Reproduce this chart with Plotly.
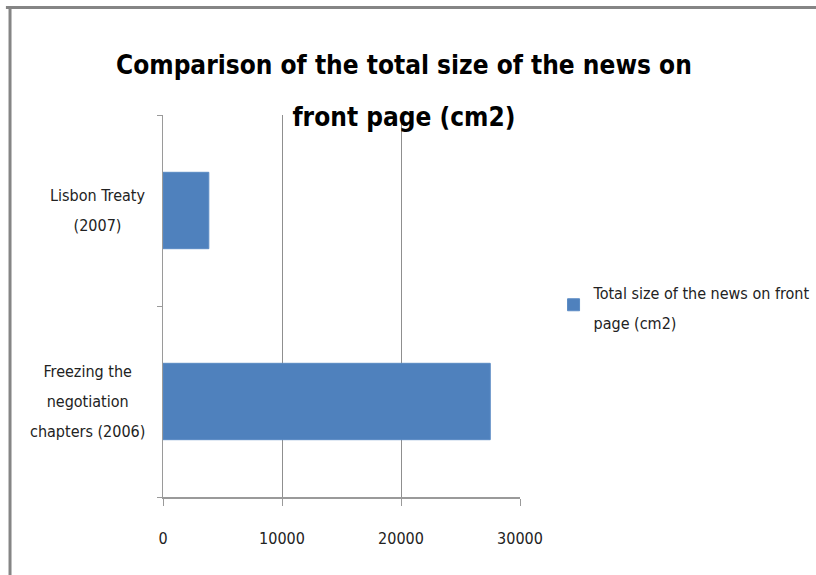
import plotly.graph_objects as go

# ---- data ----
categories = ["Freezing the negotiation chapters (2006)", "Lisbon Treaty (2007)"]
category_lines = [["Freezing the", "negotiation", "chapters (2006)"], ["Lisbon Treaty", "(2007)"]]
values = [27500, 3850]
series_lines = ["Total size of the news on front", "page (cm2)"]
title_lines = ["Comparison of the total size of the news on", "front page (cm2)"]
x_ticks = [0, 10000, 20000, 30000]

FONT = "DejaVu Sans Condensed"
BLUE = "#4F81BD"
GRID = "#8F8F8F"
TXT = "#222222"


def spaced(lines, px):
    # text at `px` size, line spacing taken from the (larger) element font size
    return "<br>".join(f"<span style='font-size:{px}px'>{ln}</span>" for ln in lines)


fig = go.Figure()
fig.add_trace(go.Bar(
    x=values, y=categories, orientation="h", name=spaced(series_lines, 16),
    marker=dict(color=BLUE, line=dict(color="#5B8BC4", width=1)),
    showlegend=True,
))

annotations = []
for cat, lines in zip(categories, category_lines):
    annotations.append(dict(
        x=-0.045, xref="paper", xanchor="right",
        y=cat, yref="y", yanchor="middle",
        text=spaced(lines, 16), showarrow=False, align="center",
        font=dict(family=FONT, size=23, color=TXT),
    ))

fig.update_layout(
    width=816, height=575,
    margin=dict(l=163, r=296, t=115, b=78, autoexpand=False),
    paper_bgcolor="white", plot_bgcolor="white",
    title=dict(text=spaced(title_lines, 26), x=0.495, xanchor="center", y=0.871, yanchor="middle",
               font=dict(family=FONT, size=40, color="black", weight="bold")),
    bargap=0.6,
    xaxis=dict(range=[0, 30000], tickvals=x_ticks, tickformat="d", showgrid=True, gridcolor=GRID,
               gridwidth=1, zeroline=False, showline=True, linecolor="#9A9A9A", linewidth=2,
               ticks="outside", ticklen=7, tickcolor="#9A9A9A", ticklabelstandoff=19,
               tickfont=dict(family=FONT, size=16, color=TXT), fixedrange=True),
    yaxis=dict(range=[-0.5, 1.5], showgrid=False, zeroline=False, showline=True,
               linecolor="#9A9A9A", linewidth=1, ticks="outside", ticklen=5, tickcolor="#9A9A9A",
               tickson="boundaries", showticklabels=False, fixedrange=True),
    legend=dict(x=1.094, xanchor="left", y=0.503, yanchor="middle",
                font=dict(family=FONT, size=23, color=TXT), bgcolor="rgba(0,0,0,0)",
                itemwidth=30),
    annotations=annotations,
    shapes=[
        dict(type="line", xref="paper", yref="paper", x0=-0.44, x1=1.85, y0=1.2815, y1=1.2815,
             line=dict(color="#858585", width=3)),
        dict(type="line", xref="paper", yref="paper", x0=-0.4285, x1=-0.4285, y0=1.285, y1=-0.22,
             line=dict(color="#858585", width=3)),
    ],
)

fig.write_html("out.html")
